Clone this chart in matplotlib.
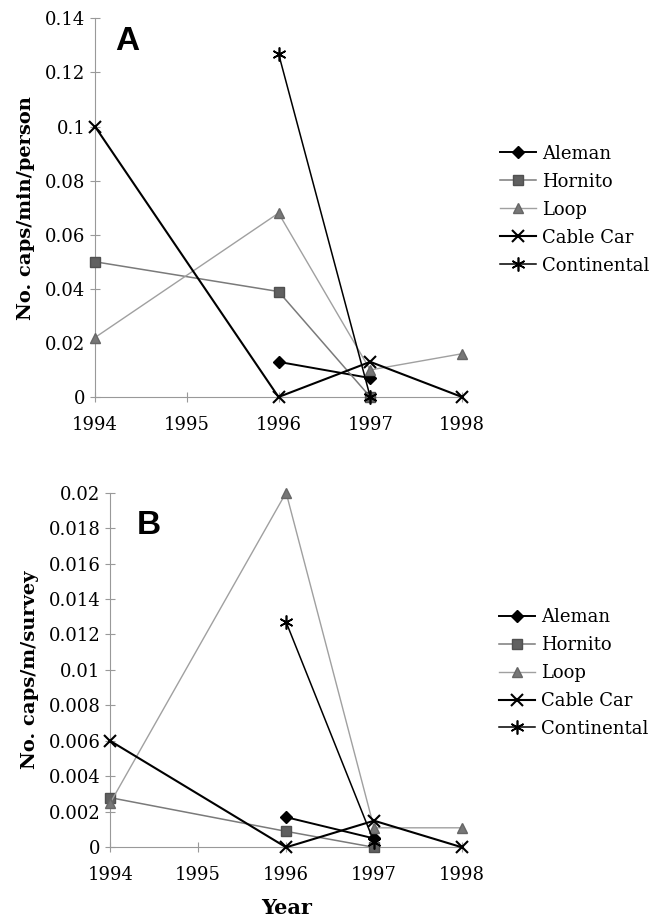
import numpy as np
from matplotlib import pyplot as plt

plt.rcParams['font.family'] = ['DejaVu Serif']

sites = ['Aleman', 'Hornito', 'Loop', 'Cable Car', 'Continental']
years = {
    'Aleman': [1996, 1997],
    'Hornito': [1994, 1996, 1997],
    'Loop': [1994, 1996, 1997, 1998],
    'Cable Car': [1994, 1996, 1997, 1998],
    'Continental': [1996, 1997],
}
# panel A: caps per minute per person
rate_a = {
    'Aleman': [0.013, 0.007],
    'Hornito': [0.05, 0.039, 0.0],
    'Loop': [0.022, 0.068, 0.010, 0.016],
    'Cable Car': [0.1, 0.0, 0.013, 0.0],
    'Continental': [0.127, 0.0],
}
# panel B: caps per metre per survey
rate_b = {
    'Aleman': [0.0017, 0.0005],
    'Hornito': [0.0028, 0.0009, 0.0],
    'Loop': [0.0025, 0.020, 0.0011, 0.0011],
    'Cable Car': [0.006, 0.0, 0.0015, 0.0],
    'Continental': [0.0127, 0.0003],
}
xticks = [1994, 1995, 1996, 1997, 1998]
yticks_a = [0, 0.02, 0.04, 0.06, 0.08, 0.1, 0.12, 0.14]
yticks_b = [0, 0.002, 0.004, 0.006, 0.008, 0.01, 0.012, 0.014, 0.016, 0.018, 0.02]

styles = {
    'Aleman': dict(color='black', lw=1.4, marker='D', ms=6, mfc='black', mec='black'),
    'Hornito': dict(color='#7a7a7a', lw=1.1, marker='s', ms=7, mfc='#606060', mec='#505050'),
    'Loop': dict(color='#a0a0a0', lw=1.0, marker='^', ms=7, mfc='#777777', mec='#666666'),
    'Cable Car': dict(color='black', lw=1.5, marker='x', ms=8, mew=1.5),
    'Continental': dict(color='black', lw=1.1, marker=(6, 2, 0), ms=10, mew=1.2),
}


def fmt(v):
    if v == 0:
        return '0'
    return ('%g' % v)


def panel(ax, data, yticks, ylabel, letter, lx, ly, leg_y):
    for s in sites:
        ax.plot(years[s], data[s], label=s, clip_on=False, zorder=3, **styles[s])
    ax.set_xlim(1994, 1998)
    ax.set_ylim(0, yticks[-1])
    ax.set_xticks(xticks)
    ax.set_yticks(yticks)
    ax.set_yticklabels([fmt(v) for v in yticks])
    ax.tick_params(labelsize=13, direction='inout', length=7, color='#999999', width=0.8)
    ax.tick_params(axis='x', pad=10)
    for sp in ['top', 'right']:
        ax.spines[sp].set_visible(False)
    for sp in ['left', 'bottom']:
        ax.spines[sp].set_color('#999999')
        ax.spines[sp].set_linewidth(0.8)
    ax.set_ylabel(ylabel, fontsize=14, fontweight='bold', labelpad=7)
    ax.text(lx, ly, letter, transform=ax.transAxes, fontsize=24, fontweight='bold',
            family=['Liberation Sans', 'DejaVu Sans'], va='top')
    ax.legend(loc='upper left', bbox_to_anchor=(1.08, leg_y), frameon=False, fontsize=13,
              handlelength=2.0, handletextpad=0.3, labelspacing=0.55, borderpad=0)


fig = plt.figure(figsize=(6.6, 9.19), dpi=100)
ax1 = fig.add_axes([0.144, 0.568, 0.556, 0.412])
ax2 = fig.add_axes([0.167, 0.078, 0.533, 0.386])

panel(ax1, rate_a, yticks_a, 'No. caps/min/person', 'A', 0.055, 0.98, 0.69)
panel(ax2, rate_b, yticks_b, 'No. caps/m/survey', 'B', 0.075, 0.95, 0.70)
ax2.set_xlabel('Year', fontsize=15, fontweight='bold', labelpad=10)

fig.savefig('out.png', dpi=100)
